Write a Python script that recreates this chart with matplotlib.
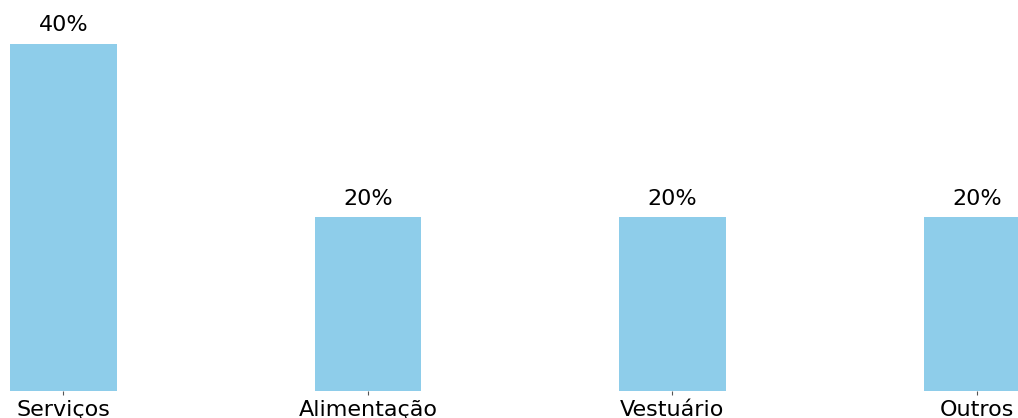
import matplotlib
matplotlib.use("Agg")
import matplotlib.pyplot as plt
import numpy as np

# dados
categorias = ["Serviços", "Alimentação", "Vestuário", "Outros"]
percentuais = [40, 20, 20, 20]

x = np.arange(len(categorias))

fig = plt.figure(figsize=(10.18, 4.18), dpi=100)
ax = fig.add_axes([0, 27 / 418, 1, 391 / 418])

ax.bar(x, percentuais, width=0.35, color="#8ecdea")

for xi, p in zip(x, percentuais):
    ax.text(xi, p + 1, f"{p}%", ha="center", va="bottom", fontsize=16)

ax.set_xticks(x)
ax.set_xticklabels(categorias, fontsize=16)
ax.set_yticks([])
ax.tick_params(axis="x", length=3, color="#555555")
for s in ax.spines.values():
    s.set_visible(False)

ax.set_xlim(-0.208, 3.135)
ax.set_ylim(0, 45.07)

plt.savefig("out.png", dpi=100)
